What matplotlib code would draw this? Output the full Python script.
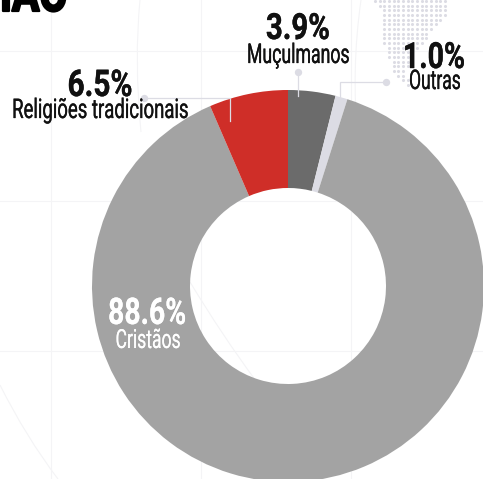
import os
import tempfile

import matplotlib
matplotlib.use("Agg")
import matplotlib.pyplot as plt
import matplotlib.patheffects as pe
from fontTools.ttLib import TTFont
from matplotlib import font_manager as fm
from matplotlib.patches import PathPatch, Wedge
from matplotlib.path import Path

# religious affiliation, share of the population (%)
groups = ["Muçulmanos", "Outras", "Cristãos", "Religiões tradicionais"]
shares = [3.9, 1.0, 88.6, 6.5]
share_labels = ["3.9%", "1.0%", "88.6%", "6.5%"]
slice_colors = ["#6b6b6b", "#dcdce4", "#a3a3a3", "#cf2e28"]

# dotted map in the corner, first and last column of each row
map_first = [0, 1, 2, 2, 2, 2, 2, 2, 2, 2, 3, 3, 3, 4, 4, 4, 5, 6, 7]
map_last = [15, 15, 15, 15, 14, 13, 12, 11, 11, 10, 9, 8, 7, 7, 7, 6, 6, 7, 7]

GUIDE = "#dcdce4"
FAINT = "#f4f4f6"
FONT = "Roboto"
font_dir = tempfile.mkdtemp()


def narrow_font(weight, sx):
    # no condensed face is installed, so build one by scaling the glyphs in x
    src = fm.findfont(fm.FontProperties(family=FONT, weight=weight))
    font = TTFont(src)
    glyf = font["glyf"]
    for name in glyf.keys():
        g = glyf[name]
        if g.isComposite():
            for comp in g.components:
                comp.x = round(comp.x * sx)
        elif g.numberOfContours > 0:
            g.coordinates.scale((sx, 1))
        if g.numberOfContours != 0:
            g.removeHinting()
            g.recalcBounds(glyf)
    hmtx = font["hmtx"]
    for name, (adv, lsb) in hmtx.metrics.items():
        hmtx.metrics[name] = (round(adv * sx), round(lsb * sx))
    for tag in ["fpgm", "prep", "cvt ", "hdmx", "LTSH", "VDMX"]:
        if tag in font:
            del font[tag]
    path = os.path.join(font_dir, f"narrow_{weight}_{sx:.4f}.ttf")
    font.save(path)
    return fm.FontProperties(fname=path)


def label(ax, txt, x, y, size, width, weight="normal", color="#111111", ha="center", stroke=0.2):
    probe = ax.text(0, 0, txt, family=FONT, fontsize=size, weight=weight)
    full = probe.get_window_extent(ax.figure.canvas.get_renderer()).width
    probe.remove()
    prop = narrow_font(weight, width / full)
    prop.set_size(size)
    t = ax.text(x, y, txt, fontproperties=prop, color=color, ha=ha, va="baseline")
    t.set_path_effects([pe.withStroke(linewidth=stroke, foreground=color)])
    return t


W, H = 483, 479
fig = plt.figure(figsize=(W / 100, H / 100), dpi=100)
ax = fig.add_axes([0, 0, 1, 1])
ax.set_xlim(0, W)
ax.set_ylim(H, 0)
ax.axis("off")

# faint background grid and arcs
for pos in [51, 201, 351]:
    ax.axvline(pos, color=FAINT, lw=0.8, zorder=0)
    ax.axhline(pos, color=FAINT, lw=0.8, zorder=0)
curves = [
    [(140, 0), (134, 60), (141, 132)],
    [(361, 0), (351, 70), (358, 140)],
    [(0, 385), (26, 437), (58, 479)],
    [(190, 282), (222, 335), (256, 381)],
]
for pts in curves:
    ax.add_patch(PathPatch(Path(pts, [Path.MOVETO, Path.CURVE3, Path.CURVE3]), fc="none", ec=FAINT, lw=0.8, zorder=0))

# dotted map
map_x = []
map_y = []
for row, (first, last) in enumerate(zip(map_first, map_last)):
    for col in range(first, last + 1):
        map_x.append(375 + col * 4.67)
        map_y.append(1 + row * 4.67)
ax.scatter(map_x, map_y, s=5, color=GUIDE, linewidths=0, zorder=1)

# the donut, clockwise from twelve o'clock
cx, cy, r_out, r_in = 288, 286, 196, 98
start = -90
for share, color in zip(shares, slice_colors):
    sweep = share * 3.6
    ax.add_patch(Wedge((cx, cy), r_out, start, start + sweep, width=r_out - r_in, fc=color, ec="none", zorder=2))
    start += sweep

# leader lines
leaders = [
    [(298, 72), (298, 96)],
    [(386, 82), (340, 82), (340, 98)],
    [(144, 98), (229.5, 98), (229.5, 121)],
]
for pts in leaders:
    xs, ys = zip(*pts)
    ax.plot(xs, ys, color=GUIDE, lw=0.9, zorder=3, solid_joinstyle="miter")
    ax.scatter(xs[0], ys[0], s=28, color=GUIDE, linewidths=0, zorder=3)

# labels
label(ax, "RELIGIÃO", 68, 11, 36, 178, weight="bold", color="black", ha="right", stroke=1.6)

label(ax, share_labels[0], 298, 39, 26, 64, weight="bold", stroke=0.25)
label(ax, groups[0], 298.5, 63, 19.5, 103)
label(ax, share_labels[1], 434, 68, 26, 62, weight="bold", stroke=0.25)
label(ax, groups[1], 435, 89, 19.5, 52)
label(ax, share_labels[2], 147, 324, 26.5, 78, weight="bold", color="white", stroke=0.1)
label(ax, groups[2], 148, 348, 19, 65, color="white", stroke=0.05)
label(ax, share_labels[3], 100, 96, 26.5, 65, weight="bold", stroke=0.25)
label(ax, groups[3], 100.5, 118, 19.5, 177)

fig.savefig("out.png", dpi=100)
